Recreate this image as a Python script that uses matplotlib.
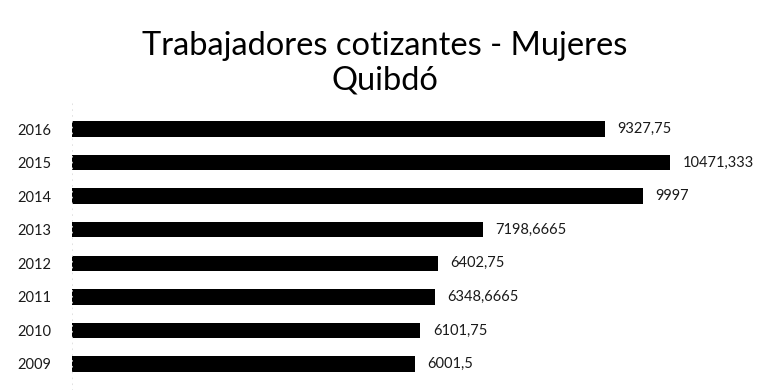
import matplotlib.pyplot as plt

years = ['2009', '2010', '2011', '2012', '2013', '2014', '2015', '2016']
cotizantes = [6001.5, 6101.75, 6348.6665, 6402.75, 7198.6665, 9997, 10471.333, 9327.75]


def fmt(v):
    # decimal comma, no trailing zeros
    s = ('%.4f' % v).rstrip('0').rstrip('.')
    return s.replace('.', ',')


plt.rcParams['font.family'] = ['Lato', 'DejaVu Sans']

fig = plt.figure(figsize=(7.7, 3.9), dpi=100)
ax = fig.add_axes([72 / 770, 0, 698 / 770, 290 / 390])

pos = range(len(years))
ax.barh(pos, cotizantes, height=0.46, color='black')

for y, v in zip(pos, cotizantes):
    ax.annotate(fmt(v), (v, y), xytext=(9, 0), textcoords='offset points',
                va='center', ha='left', fontsize=10.5, color='#1a1a1a')

ax.set_xlim(0, 698 / 0.0571)
ax.set_ylim(-0.775, 7.864)
ax.set_yticks(list(pos))
ax.set_yticklabels(years, fontsize=10.5, color='#1a1a1a')
ax.tick_params(axis='y', length=0, pad=15)
ax.set_xticks([])
for side in ['top', 'right', 'bottom']:
    ax.spines[side].set_visible(False)
ax.spines['left'].set_color('#dddddd')
ax.spines['left'].set_linestyle((0, (1, 6)))
ax.spines['left'].set_linewidth(0.6)

fig.text(385 / 770, 1 - 46 / 390, 'Trabajadores cotizantes - Mujeres',
         ha='center', va='center', fontsize=23.5, color='black')
fig.text(385 / 770, 1 - 81 / 390, 'Quibdó',
         ha='center', va='center', fontsize=23.5, color='black')

fig.savefig('out.png', dpi=100, facecolor='white')
